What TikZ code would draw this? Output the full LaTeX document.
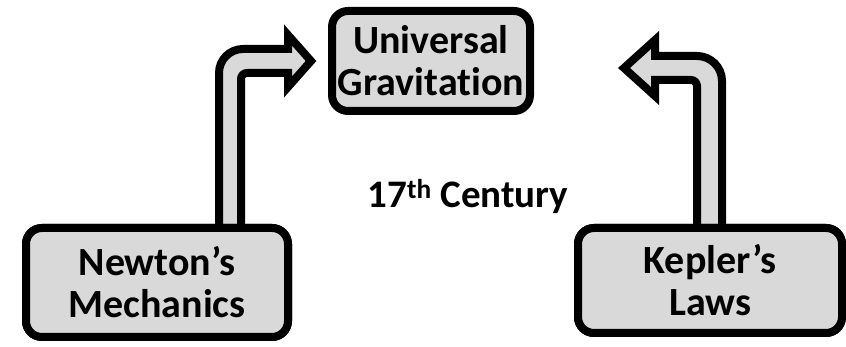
\documentclass[tikz,border=0pt]{standalone}
\usepackage{fontspec}
\setmainfont{Carlito}[Ligatures={NoCommon, NoDiscretionary}]
\usepackage{tikz}
\usetikzlibrary{positioning}
\usetikzlibrary{calc}

\begin{document}
\begin{tikzpicture}[x=1pt, y=1pt,
    topic/.style={draw=black, fill=black!15, line width=8pt, rounded corners=16pt,
      outer sep=0pt, align=center, font=\fontsize{40}{42}\selectfont\bfseries},
    bent/.style={draw=black, fill=black!15, line width=8pt, line join=miter}]

        % Frame of the picture
        \useasboundingbox (0, 0) rectangle (846, 347);

        % The three topics
        \node[topic, minimum width=198pt, minimum height=100pt] (grav) at (431, 286) {Universal\\Gravitation};
        \node[topic, minimum width=262pt, minimum height=109pt] (newton) at (157, 64.5) {Newton’s\\Mechanics};
        \node[topic, minimum width=264pt, minimum height=105pt] (kepler) at (710, 66.5) {Kepler’s\\Laws};

        % Tips of the bent arrows
        \path (grav.west) ++(-21, 0) coordinate (ntip);
        \path (grav.east) ++(94, -7) coordinate (ktip);

        % Bent arrow from Newton's box
        \draw[bent] ([xshift=62pt]newton.north) -- ++(0, 155)
          arc[start angle=180, end angle=90, radius=24]
          -- ([xshift=-23pt, yshift=12pt]ntip) -- ++(0, 14) -- (ntip)
          -- ++(-23, -26) -- ++(0, 14) -- ++(-41, 0)
          arc[start angle=90, end angle=180, radius=6]
          -- ([xshift=84pt]newton.north) -- cycle;

        % Bent arrow from Kepler's box
        \draw[bent] ([xshift=12pt]kepler.north) -- ++(0, 147)
          arc[start angle=0, end angle=90, radius=25]
          -- ([xshift=31pt, yshift=12pt]ktip) -- ++(0, 16) -- (ktip)
          -- ++(31, -28) -- ++(0, 16) -- ++(36, 0)
          arc[start angle=90, end angle=0, radius=6]
          -- ([xshift=-13pt]kepler.north) -- cycle;

        % Boxes again on top of the arrow feet
        \node[topic, minimum width=262pt, minimum height=109pt] at (newton) {Newton’s\\Mechanics};
        \node[topic, minimum width=264pt, minimum height=105pt] at (kepler) {Kepler’s\\Laws};

        % Period label
        \node[anchor=base, font=\fontsize{39}{42}\selectfont\bfseries] (period) at (468, 139) {17\textsuperscript{th} Century};

\end{tikzpicture}
\end{document}
